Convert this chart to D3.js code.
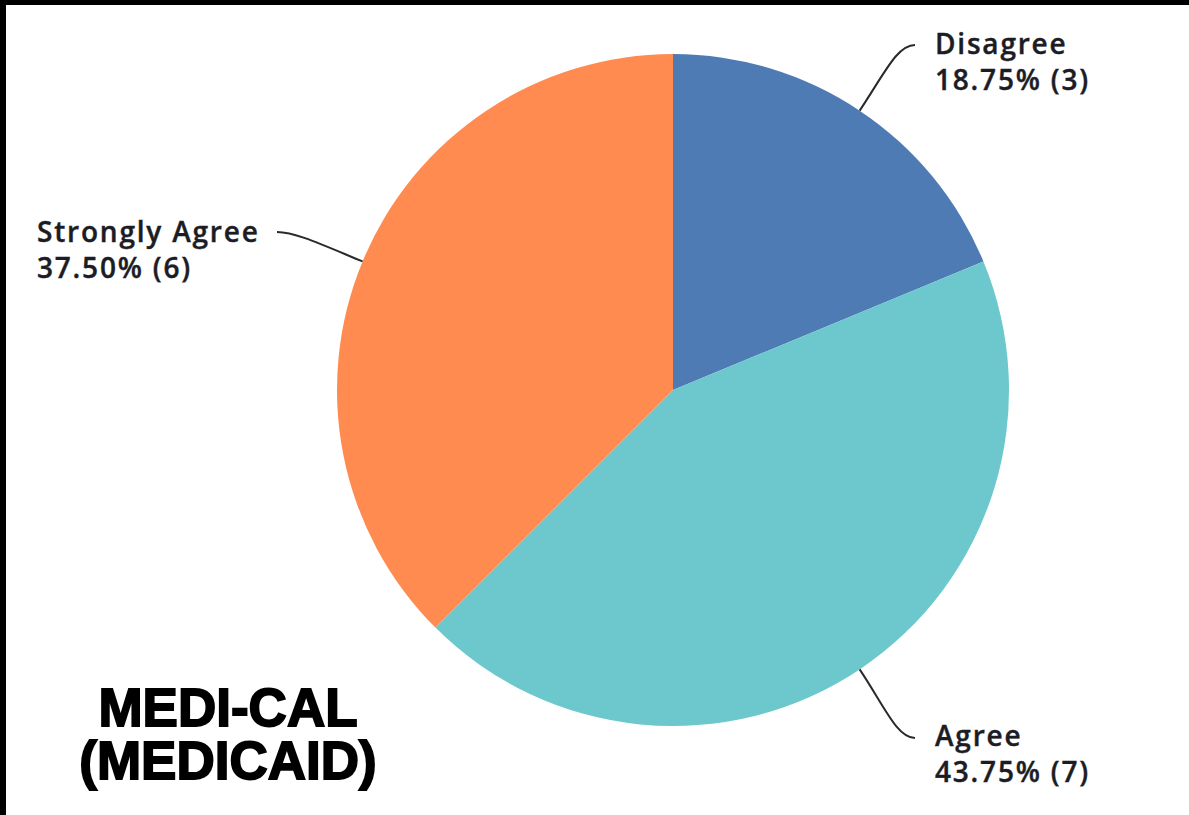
<!DOCTYPE html>
<html>
<head>
<meta charset="utf-8">
<script src="https://cdn.jsdelivr.net/npm/d3@7"></script>
<style>
  html, body { margin: 0; padding: 0; background: #fff; }
  svg { display: block; }
</style>
</head>
<body>
<div id="chart"></div>
<script>
// survey answers
var categories = ['Disagree', 'Agree', 'Strongly Agree'];
var counts = [3, 7, 6];
var percents = ['18.75%', '43.75%', '37.50%'];
var colors = ['#4f7bb4', '#6cc8cc', '#ff8b51'];
var titleLines = ['MEDI-CAL', '(MEDICAID)'];

var W = 1189, H = 815;
var cx = 673, cy = 390, R = 336;

// label anchor (end of leader line) and text position per slice
var labelPos = [
  {end: [915, 45], tx: 935, ty: 44, anchor: 'start'},
  {end: [915, 738], tx: 935, ty: 736, anchor: 'start'},
  {end: [277, 232], tx: 37, ty: 232, anchor: 'start'}
];

var svg = d3.select('#chart').append('svg')
  .attr('width', W)
  .attr('height', H);

svg.append('rect').attr('width', W).attr('height', H).style('fill', '#fff');

// black frame on top and left edge
svg.append('rect').attr('x', 0).attr('y', 0).attr('width', W).attr('height', 5).style('fill', '#000');
svg.append('rect').attr('x', 0).attr('y', 0).attr('width', 6).attr('height', H).style('fill', '#000');

var pie = d3.pie().sort(null).value(function(d){ return d; });
var arcs = pie(counts);
var arc = d3.arc().innerRadius(0).outerRadius(R);

var g = svg.append('g').attr('transform', 'translate(' + cx + ',' + cy + ')');

g.selectAll('path.slice')
  .data(arcs)
  .enter().append('path')
  .attr('class', 'slice')
  .attr('d', arc)
  .style('fill', function(d, i){ return colors[i]; });

// leader lines
arcs.forEach(function(d, i){
  var a = (d.startAngle + d.endAngle) / 2;
  var p0 = [cx + R * Math.sin(a), cy - R * Math.cos(a)];
  var p1 = [cx + (R + 45) * Math.sin(a), cy - (R + 45) * Math.cos(a)];
  var e = labelPos[i].end;
  var dir = e[0] > cx ? -1 : 1;
  var p2 = [e[0] + dir * 18, e[1]];
  var path = d3.path();
  path.moveTo(p0[0], p0[1]);
  path.bezierCurveTo(p1[0], p1[1], p2[0], p2[1], e[0], e[1]);
  svg.append('path')
    .attr('d', path.toString())
    .style('fill', 'none')
    .style('stroke', '#2a2a2a')
    .style('stroke-width', 2);
});

// slice labels
labelPos.forEach(function(p, i){
  var t = svg.append('text')
    .attr('x', p.tx)
    .attr('y', p.ty)
    .attr('text-anchor', p.anchor)
    .style('font-family', '"Open Sans", sans-serif')
    .style('font-weight', 600)
    .style('font-size', '28px')
    .style('letter-spacing', '1.8px')
    .style('fill', '#1c1c24')
    .style('stroke', '#1c1c24')
    .style('stroke-width', 0.4);
  t.append('tspan').attr('x', p.tx).attr('dy', '0.35em').text(categories[i]);
  t.append('tspan').attr('x', p.tx).attr('dy', 36).text(percents[i] + ' (' + counts[i] + ')');
});

// title, one text per line
titleLines.forEach(function(s, i){
  svg.append('text')
    .attr('x', 228)
    .attr('y', 726 + i * 53)
    .attr('text-anchor', 'middle')
    .style('font-family', '"Liberation Sans", Arial, sans-serif')
    .style('font-weight', 'bold')
    .style('font-size', '53px')
    .style('fill', '#000')
    .style('stroke', '#000')
    .style('stroke-width', 1.8)
    .text(s);
});
</script>
</body>
</html>
